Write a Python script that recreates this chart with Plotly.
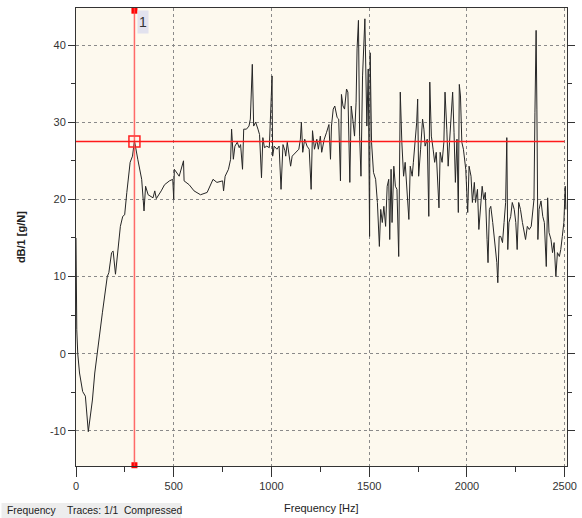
import plotly.graph_objects as go

# ---- data ----
freq_hz = [0, 4, 9, 18, 34, 48, 63, 84, 96, 118, 135, 160, 168, 182, 190, 202, 215, 227, 239, 249,
           260, 277, 289, 299, 316, 336, 348, 356, 369, 394, 403, 411, 436, 453, 478, 495, 500, 503,
           528, 550, 553, 579, 604, 637, 671, 701, 721, 750, 755, 763, 780, 791, 796, 805, 813, 825,
           835, 842, 852, 858, 872, 885, 892, 897, 902, 909, 919, 931, 939, 949, 956, 964, 976, 989,
           997, 1003, 1006, 1014, 1028, 1039, 1049, 1059, 1069, 1073, 1081, 1089, 1098, 1106, 1123,
           1140, 1148, 1153, 1160, 1170, 1182, 1193, 1203, 1210, 1220, 1232, 1240, 1250, 1257, 1270,
           1282, 1294, 1302, 1307, 1316, 1324, 1336, 1344, 1353, 1358, 1366, 1374, 1384, 1391, 1401,
           1408, 1416, 1425, 1433, 1438, 1445, 1451, 1458, 1466, 1478, 1488, 1495, 1502, 1505, 1512,
           1522, 1533, 1542, 1552, 1559, 1567, 1575, 1584, 1592, 1600, 1605, 1612, 1617, 1626, 1634,
           1642, 1651, 1659, 1667, 1676, 1684, 1692, 1703, 1710, 1720, 1726, 1735, 1743, 1748, 1753,
           1763, 1773, 1780, 1786, 1797, 1805, 1810, 1818, 1827, 1835, 1843, 1850, 1857, 1863, 1873,
           1882, 1888, 1897, 1904, 1911, 1919, 1927, 1934, 1941, 1949, 1956, 1961, 1967, 1974, 1982,
           1994, 2004, 2011, 2021, 2028, 2038, 2044, 2054, 2061, 2071, 2078, 2086, 2094, 2103, 2108,
           2115, 2122, 2132, 2142, 2153, 2158, 2165, 2173, 2182, 2190, 2198, 2204, 2209, 2215, 2224,
           2232, 2242, 2250, 2257, 2265, 2274, 2284, 2292, 2300, 2309, 2319, 2329, 2336, 2343, 2348,
           2351, 2354, 2358, 2363, 2369, 2379, 2388, 2396, 2406, 2413, 2420, 2430, 2438, 2446, 2455,
           2463, 2473, 2480, 2488, 2496, 2503, 2506]
level_db = [15, 3.1, 0, -2.5, -4.9, -5.5, -10.1, -6, -2.5, 2.2, 5.3, 10, 10.5, 13.1, 13.3, 10.3, 13.1, 16.5, 17.8, 18,
            20.9, 24.8, 25.6, 27.6, 25.2, 22.6, 18.5, 21.7, 20.6, 20.2, 21.1, 20.1, 21.1, 21.9, 22.4, 22.6, 20, 23.9,
            23, 25, 22.4, 21.9, 21.1, 20.6, 20.9, 22.6, 22.2, 22.4, 21.1, 23, 23.9, 25.2, 29.1, 25.2, 26.9, 27.4,
            26.7, 27.1, 23.9, 29.1, 29.1, 29.5, 30.4, 34.1, 37.5, 29.5, 30, 29.1, 28.4, 22.8, 28, 26.7, 26.9, 26.7,
            31.5, 36, 25.6, 26.9, 26.5, 26.9, 21.3, 27.1, 26.3, 25.6, 27.4, 26.1, 24.3, 25.6, 26.1,
            26.5, 27.8, 30, 26.1, 27.8, 26.9, 26.5, 21.3, 28.9, 26.5, 27.8, 26.5, 28.2, 26.1, 27.8,
            28.7, 29.7, 25.2, 29.5, 31.7, 32.1, 30.6, 30.4, 22.4, 33.6, 32.1, 31.7, 34.3, 33.9, 22.2,
            32.1, 30.4, 28.2, 32.6, 39.5, 43.2, 28.2, 23, 36, 43.4, 29.5, 36.9, 15.2, 39, 27.4,
            23.5, 22.6, 19.6, 13.9, 18.7, 17, 19.1, 16.5, 21.7, 22.6, 14.8, 23.9, 17, 24.3, 21.7,
            21.3, 12.6, 33.9, 27.4, 23, 24.8, 22.2, 17.4, 24.3, 23, 24.8, 27.4, 30, 33, 23,
            26.5, 30.4, 29.1, 26.9, 27.8, 17.8, 35.2, 28.2, 26.5, 24.8, 26.1, 22.2, 18.9, 26.1, 24.8,
            27.4, 33.9, 29.1, 24.3, 27.4, 30.8, 33.9, 28.7, 22.2, 27.8, 18.3, 34.9, 33.4, 27.4, 26.5,
            23.9, 18.3, 24.3, 23, 19.6, 22.2, 19.6, 21.3, 16.1, 20, 21.7, 20, 20.9, 14.8, 11.8,
            18.7, 19.1, 17, 14.4, 11.8, 9.2, 15.2, 15.2, 14.4, 17, 19.6, 28, 13.5, 17, 17.8,
            19.6, 18.7, 17, 13.5, 19.6, 18.7, 17, 16.1, 14.8, 16.5, 16.1, 16.5, 18.7, 20, 31.3,
            35.2, 41.9, 31.7, 14.8, 18.7, 19.8, 17.8, 17, 11.3, 20.2, 15.7, 14.8, 13.1, 14.4, 10,
            13.1, 12.6, 13.5, 15.2, 17, 21.7, 18.7]

x_ticks = [0, 500, 1000, 1500, 2000, 2500]
y_ticks = [-10, 0, 10, 20, 30, 40]
x_range = [0, 2512]
y_range = [-14.55, 44.8]

cursor_freq = 299
cursor_level = 27.5
cursor_label = "1"

x_title = "Frequency [Hz]"
y_title = "dB/1 [g/N]"
status_text = "Frequency\u00a0\u00a0\u00a0\u00a0Traces: 1/1\u00a0\u00a0Compressed"

FONT = "Liberation Sans, Arial, sans-serif"

fig = go.Figure()

fig.add_trace(go.Scatter(
    x=freq_hz, y=level_db, mode="lines",
    line=dict(color="#262626", width=1),
    hoverinfo="skip", showlegend=False,
))

# cursor end markers (top & bottom)
fig.add_trace(go.Scatter(
    x=[cursor_freq, cursor_freq], y=[y_range[1] - 0.35, y_range[0] + 0.1],
    mode="markers", marker=dict(symbol="square", size=6, color="#ff0000"),
    cliponaxis=False, hoverinfo="skip", showlegend=False,
))

# cursor lines
fig.add_shape(type="line", xref="x", yref="paper", x0=cursor_freq, x1=cursor_freq, y0=0, y1=1,
              line=dict(color="rgba(255,70,70,0.8)", width=1.5), layer="above")
fig.add_shape(type="line", xref="paper", yref="y", x0=0, x1=0.995, y0=cursor_level, y1=cursor_level,
              line=dict(color="#ff1a1a", width=1.5), layer="above")

# cursor intersection square
fig.add_trace(go.Scatter(
    x=[cursor_freq], y=[cursor_level], mode="markers",
    marker=dict(symbol="square-open", size=11, color="#ff2020", line=dict(width=1.5, color="#ff2020")),
    hoverinfo="skip", showlegend=False,
))

# cursor label box
fig.add_annotation(x=cursor_freq, xref="x", y=1, yref="paper", text=cursor_label,
                   xanchor="left", yanchor="top", xshift=3, yshift=-2,
                   showarrow=False, bgcolor="#e2e2ee", width=10, height=22, borderpad=0,
                   font=dict(family=FONT, size=14, color="#333333"))

# axis titles
fig.add_annotation(x=0.5, xref="paper", y=-0.0917, yref="paper", text=x_title,
                   showarrow=False, xanchor="center", yanchor="middle",
                   font=dict(family=FONT, size=11, color="#222222"))
fig.add_annotation(x=-0.1118, xref="paper", y=0.5, yref="paper", text="<b>" + y_title + "</b>",
                   showarrow=False, textangle=-90, xanchor="center", yanchor="middle",
                   font=dict(family=FONT, size=11, color="#222222"))

# status bar
fig.add_shape(type="rect", xref="paper", yref="paper", x0=-0.1517, x1=0.2136, y0=-0.0808, y1=-0.1135,
              fillcolor="#ededed", line=dict(width=0), layer="below")
fig.add_annotation(x=-0.1437, xref="paper", y=-0.0972, yref="paper", text=status_text,
                   showarrow=False, xanchor="left", yanchor="middle",
                   font=dict(family=FONT, size=10.3, color="#222222"))

fig.update_layout(
    width=582, height=518,
    margin=dict(l=76, r=5, t=8, b=52),
    paper_bgcolor="white",
    plot_bgcolor="#fdf9ee",
    showlegend=False,
    font=dict(family=FONT, size=11, color="#333333"),
)

fig.update_xaxes(
    range=x_range, tickvals=x_ticks, ticktext=[str(v) for v in x_ticks],
    showline=True, linecolor="#333333", linewidth=1, mirror=True,
    ticks="outside", ticklen=10, tickcolor="#333333", tickwidth=1,
    minor=dict(dtick=250, ticks="outside", ticklen=5, tickcolor="#333333", showgrid=False),
    showgrid=True, gridcolor="#8a8a8a", gridwidth=1, griddash="3px,3px",
    zeroline=False, tickfont=dict(family=FONT, size=11, color="#333333"),
)
fig.update_yaxes(
    range=y_range, tickvals=y_ticks, ticktext=[str(v) for v in y_ticks],
    showline=True, linecolor="#333333", linewidth=1, mirror="allticks",
    ticks="outside", ticklen=7, tickcolor="#333333", tickwidth=1,
    minor=dict(dtick=5, tick0=0, ticks="outside", ticklen=4, tickcolor="#333333", showgrid=False),
    showgrid=True, gridcolor="#8a8a8a", gridwidth=1, griddash="3px,3px",
    zeroline=False, tickfont=dict(family=FONT, size=11, color="#333333"),
)

fig.write_html("out.html")
